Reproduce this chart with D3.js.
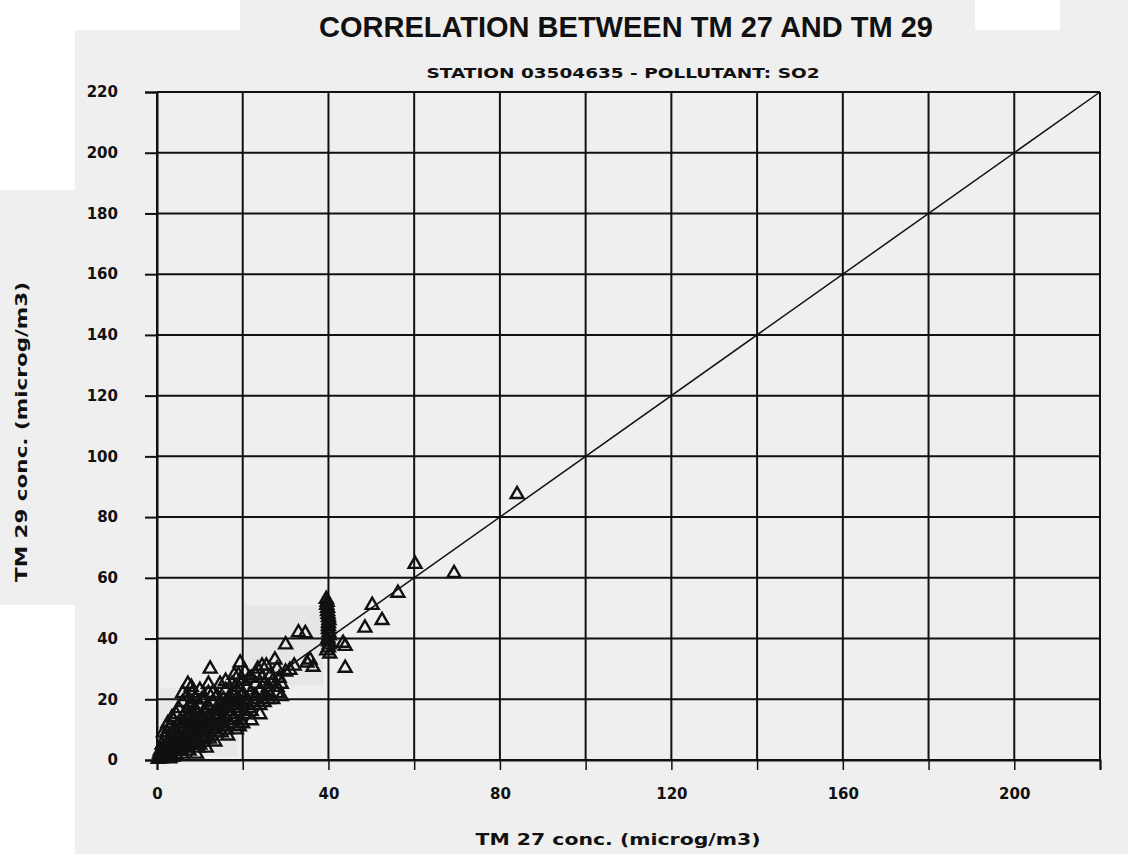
<!DOCTYPE html>
<html>
<head>
<meta charset="utf-8">
<script src="https://cdn.jsdelivr.net/npm/d3@7"></script>
<style>
  html, body { margin: 0; padding: 0; background: #efefef; }
  svg { display: block; }
</style>
</head>
<body>
<svg id="chart" width="1128" height="854"></svg>
<script>
// TM 27 vs TM 29 paired SO2 concentrations (microg/m3)
const tm27 = [
  0.5, 0.8, 1, 1.2, 1.5, 1.8, 2, 2, 2.3, 2.5, 2.8, 3, 3, 3.2, 3.5, 3.5, 3.8, 4, 4, 4.2, 4.5, 4.5, 4.8, 5, 5, 5,
  5.5, 5.5, 5.8, 6, 6, 6.2, 6.5, 6.5, 6.8, 7, 7, 7, 7.2, 7.5, 7.5, 7.8, 8, 8, 8.2, 8.5, 8.5, 8.8, 9, 9, 9, 9.2, 9.5, 9.5, 9.8, 10, 10, 10,
  10.5, 10.5, 11, 11, 11, 11.5, 11.5, 12, 12, 12, 12.4, 12.5, 12.8, 13, 13, 13.5, 13.5, 14, 14, 14, 14.5, 14.7, 15, 15, 15,
  15.5, 15.5, 16, 16, 16, 16.5, 16.5, 17, 17, 17, 17.5, 17.5, 18, 18, 18, 18.5, 18.5, 19, 19, 19, 19.4, 19.5, 19.5, 20, 20, 20,
  20.5, 20.5, 21, 21, 21.5, 22, 22, 22, 22.5, 23, 23, 23.5, 24, 24, 24.5, 25, 25, 25.5, 26, 26, 26.5, 27, 27.5, 28, 28, 28.5, 29, 30, 30, 31,
  33, 34.6, 35.7, 36.4, 35, 32, 39.5, 39.6, 39.8, 40, 40, 40, 40.2, 40, 40, 40.3, 43.4, 43.9, 43.9,
  48.5, 52.5, 50.2, 56.2, 60.2, 69.3, 84,
  0.3, 0.6, 1, 1.3, 1.6, 2.2, 2.6, 3, 3.3, 3.7, 4.2, 4.6, 4.9, 1.5, 2.5, 3.5,
  5.2, 5.6, 6, 6.3, 6.7, 7, 7.3, 7.6, 8, 8.3, 8.6, 9, 9.3, 9.6, 9.9, 6, 8,
  10.2, 10.8, 11.2, 11.8, 12.2, 12.6, 13.2, 13.8, 14.2, 14.8, 10.5, 12, 13,
  15.2, 15.8, 16.2, 16.8, 17.2, 17.8, 18.2, 18.8, 19.2, 19.8, 16, 18,
  21, 22, 23, 24, 25, 26, 27, 28, 29, 21.5, 23, 24.5, 20,
  39.7, 39.8, 39.9, 40.1, 40, 40.1, 39.9, 40.2, 39.6,
  2, 4, 6, 8, 10, 12, 14, 16, 3, 5, 7, 9, 11, 13
];
const tm29 = [
  1, 3, 0.5, 5, 2, 7, 1, 4, 9, 3, 6, 0.5, 11, 2, 5, 8, 13, 3, 10, 6, 15, 1.5, 8, 4, 12, 17,
  6, 10, 2, 14, 19, 8, 4, 12, 16, 6, 10, 21, 25, 3, 13, 18, 8, 15, 22, 5, 11, 17, 9, 13, 20, 2, 7, 15, 11, 18, 5, 23,
  9, 14, 7, 16, 20, 12, 4, 10, 17, 22, 30, 14, 8, 19, 12, 16, 6, 11, 21, 14, 18, 25, 9, 16, 13,
  20, 11, 17, 14, 23, 8, 19, 15, 21, 12, 18, 25, 14, 22, 17, 10, 20, 16, 24, 28, 32, 19, 13, 22, 18, 26,
  15, 29, 20, 24, 17, 22, 27, 13, 19, 25, 21, 30, 23, 18, 27, 21, 25, 31, 24, 20, 28, 26, 33, 22, 30, 27, 25, 29, 38, 29.6,
  42, 41.7, 33, 30.6, 32, 31, 53, 51, 49, 47, 45, 43, 41, 39, 37, 35, 38.5, 37.5, 30.3,
  43.5, 46, 51, 55, 64.5, 61.5, 87.5,
  0.3, 2, 1.5, 3.5, 0.8, 2.5, 5, 7, 4, 1, 9, 4, 6.5, 9, 12, 14,
  8, 3.5, 11, 5.5, 9, 14, 7, 11, 19, 13, 7.5, 16, 10, 4, 13, 22, 24,
  11, 6, 13, 18, 7, 12, 15, 9, 17, 12, 20, 25, 22,
  14, 18, 10, 16, 19, 13, 24, 18, 11, 21, 26, 28,
  18, 16, 20, 15, 19, 22, 20, 24, 21, 27, 28, 31, 12,
  52, 50, 48, 46, 44, 42, 40, 38, 36,
  2.5, 5, 7.5, 9.5, 12, 14.5, 16.5, 19, 1.5, 3, 4.5, 6.5, 8, 10
];

const gridValues = [0, 20, 40, 60, 80, 100, 120, 140, 160, 180, 200, 220];
const xTickLabels = [0, 40, 80, 120, 160, 200];
const yTickLabels = [0, 20, 40, 60, 80, 100, 120, 140, 160, 180, 200, 220];
const titleText = "CORRELATION BETWEEN TM 27 AND TM 29";
const subtitleText = "STATION 03504635 - POLLUTANT: SO2";
const xAxisTitle = "TM 27 conc. (microg/m3)";
const yAxisTitle = "TM 29 conc. (microg/m3)";

const svg = d3.select("#chart");
const W = 1128, H = 854;
const margin = { left: 157, right: 28, top: 92, bottom: 94 };
const plotW = W - margin.left - margin.right;
const plotH = H - margin.top - margin.bottom;

// paper tone patches
svg.append("rect").attr("width", W).attr("height", H).attr("fill", "#efefef");
svg.append("rect").attr("x", 0).attr("y", 0).attr("width", 240).attr("height", 30).attr("fill", "#ffffff");
svg.append("rect").attr("x", 0).attr("y", 0).attr("width", 75).attr("height", 190).attr("fill", "#ffffff");
svg.append("rect").attr("x", 0).attr("y", 605).attr("width", 75).attr("height", 249).attr("fill", "#ffffff");
svg.append("rect").attr("x", 975).attr("y", 0).attr("width", 85).attr("height", 30).attr("fill", "#ffffff");
svg.append("rect").attr("x", 245).attr("y", 605).attr("width", 78).attr("height", 80).attr("fill", "#e6e6e6");
svg.append("rect").attr("x", 160).attr("y", 688).attr("width", 78).attr("height", 68).attr("fill", "#e8e8e8");

const x = d3.scaleLinear().domain([0, 220]).range([margin.left, margin.left + plotW]);
const y = d3.scaleLinear().domain([0, 220]).range([margin.top + plotH, margin.top]);

const font = "'DejaVu Sans', sans-serif";

// grid
const g = svg.append("g");
g.selectAll("line.vgrid").data(gridValues).join("line")
  .attr("x1", d => x(d)).attr("x2", d => x(d))
  .attr("y1", y(0)).attr("y2", y(220))
  .attr("stroke", "#111").attr("stroke-width", 2);
g.selectAll("line.hgrid").data(gridValues).join("line")
  .attr("x1", x(0)).attr("x2", x(220))
  .attr("y1", d => y(d)).attr("y2", d => y(d))
  .attr("stroke", "#111").attr("stroke-width", 2);

// axes
const xAxis = d3.axisBottom(x).tickValues(gridValues).tickSize(10)
  .tickFormat(d => xTickLabels.includes(d) ? d : "");
const xg = svg.append("g").attr("transform", `translate(0,${y(0)})`).call(xAxis);
xg.select(".domain").attr("stroke", "#111").attr("stroke-width", 2);
xg.selectAll(".tick line").attr("stroke", "#111").attr("stroke-width", 1.5);
xg.selectAll(".tick text").attr("font-family", font).attr("font-size", 15).attr("font-weight", "bold")
  .attr("fill", "#111").attr("dy", "1.75em");

const yAxis = d3.axisLeft(y).tickValues(yTickLabels).tickSize(12).tickPadding(27);
const yg = svg.append("g").attr("transform", `translate(${x(0)},0)`).call(yAxis);
yg.select(".domain").attr("stroke", "#111").attr("stroke-width", 2);
yg.selectAll(".tick line").attr("stroke", "#111").attr("stroke-width", 2);
yg.selectAll(".tick text").attr("font-family", font).attr("font-size", 15).attr("font-weight", "bold")
  .attr("fill", "#111");

// 1:1 reference line
svg.append("line")
  .attr("x1", x(0)).attr("y1", y(0)).attr("x2", x(220)).attr("y2", y(220))
  .attr("stroke", "#111").attr("stroke-width", 1.5);

// scatter triangles
const tri = d3.symbol().type(d3.symbolTriangle).size(72);
const pts = tm27.map((v, i) => [v, tm29[i]]);
svg.append("g").selectAll("path").data(pts).join("path")
  .attr("d", tri)
  .attr("transform", d => `translate(${x(d[0])},${y(d[1])})`)
  .attr("fill", "none").attr("stroke", "#111").attr("stroke-width", 2.4);

// titles
svg.append("text").attr("x", 626).attr("y", 37).attr("text-anchor", "middle")
  .attr("font-family", "'Liberation Sans', Arial, sans-serif").attr("font-weight", "bold")
  .attr("font-size", 30).attr("textLength", 614).attr("lengthAdjust", "spacingAndGlyphs")
  .attr("fill", "#111").text(titleText);
svg.append("text").attr("x", 623).attr("y", 78).attr("text-anchor", "middle")
  .attr("font-family", font).attr("font-size", 14).attr("font-weight", "bold")
  .attr("textLength", 393).attr("lengthAdjust", "spacingAndGlyphs")
  .attr("fill", "#111").text(subtitleText);
svg.append("text").attr("x", 618).attr("y", 845).attr("text-anchor", "middle")
  .attr("font-family", font).attr("font-size", 16).attr("font-weight", 600)
  .attr("textLength", 285).attr("lengthAdjust", "spacingAndGlyphs")
  .attr("fill", "#111").text(xAxisTitle);
svg.append("text").attr("transform", "translate(27,432) rotate(-90)").attr("text-anchor", "middle")
  .attr("font-family", font).attr("font-size", 16).attr("font-weight", 600)
  .attr("textLength", 300).attr("lengthAdjust", "spacingAndGlyphs")
  .attr("fill", "#111").text(yAxisTitle);
</script>
</body>
</html>
